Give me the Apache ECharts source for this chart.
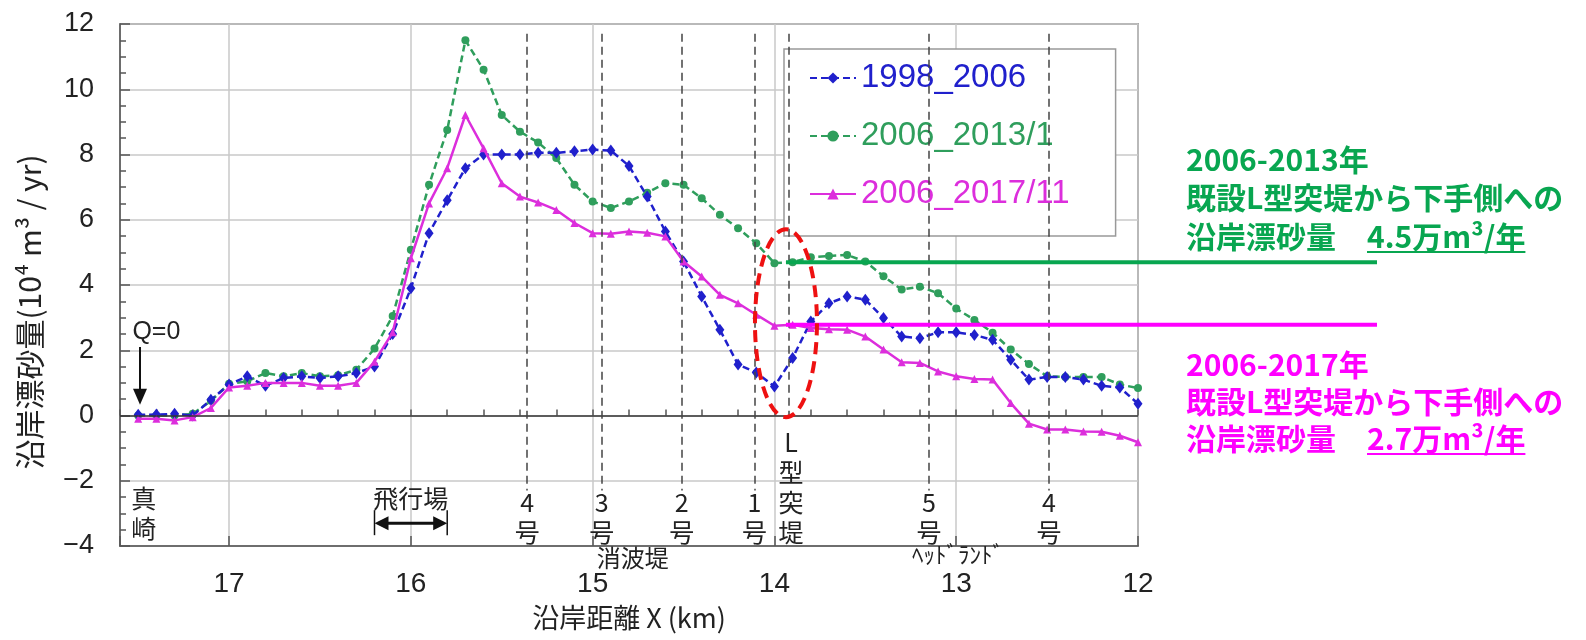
<!DOCTYPE html>
<html><head><meta charset="utf-8">
<script src="https://cdn.jsdelivr.net/npm/echarts@6/dist/echarts.min.js"></script>
<style>html,body{margin:0;padding:0;background:#fff}#c{width:1586px;height:640px}</style>
</head><body><div id="c"></div>
<script>
// ---- data ----
const km = [17.5,17.4,17.3,17.2,17.1,17.0,16.9,16.8,16.7,16.6,16.5,16.4,16.3,16.2,16.1,
  16.0,15.9,15.8,15.7,15.6,15.5,15.4,15.3,15.2,15.1,
  15.0,14.9,14.8,14.7,14.6,14.5,14.4,14.3,14.2,14.1,
  14.0,13.9,13.8,13.7,13.6,13.5,13.4,13.3,13.2,13.1,
  13.0,12.9,12.8,12.7,12.6,12.5,12.4,12.3,12.2,12.1,12.0];
const q1998_2006 = [0.02,0.03,0.05,0.0,0.48,0.95,1.2,0.91,1.15,1.2,1.15,1.2,1.3,1.5,2.5,
  3.9,5.59,6.6,7.58,8.0,8.0,8.0,8.05,8.05,8.1,
  8.15,8.12,7.65,6.71,5.64,4.72,3.65,2.63,1.56,1.32,
  0.89,1.76,2.88,3.44,3.65,3.55,2.99,2.42,2.37,2.55,
  2.55,2.47,2.32,1.71,1.1,1.18,1.18,1.1,0.91,0.86,0.36];
const q2006_2013 = [0,0,0,0.05,0.45,0.97,1.05,1.3,1.2,1.3,1.2,1.23,1.4,2.05,3.05,
  5.08,7.07,8.75,11.5,10.6,9.21,8.7,8.37,7.89,7.07,
  6.56,6.36,6.56,6.83,7.12,7.07,6.66,6.15,5.74,5.28,
  4.67,4.7,4.85,4.89,4.92,4.72,4.27,3.86,3.95,3.75,
  3.28,2.93,2.54,2.02,1.58,1.2,1.18,1.18,1.18,0.95,0.84];
const q2006_2017 = [-0.1,-0.1,-0.15,-0.05,0.23,0.86,0.91,1.0,1.0,1.0,0.91,0.91,1.0,1.65,2.55,
  4.82,6.5,7.58,9.21,8.19,7.12,6.71,6.53,6.3,5.9,
  5.59,5.57,5.64,5.6,5.49,4.72,4.26,3.7,3.44,3.09,
  2.75,2.78,2.68,2.64,2.63,2.42,2.02,1.63,1.61,1.35,
  1.2,1.12,1.1,0.38,-0.25,-0.43,-0.43,-0.49,-0.5,-0.62,-0.82];
const seriesNames = ['1998_2006','2006_2013/1','2006_2017/11'];
// structure positions (km) and labels
const structKm = [15.36, 14.95, 14.51, 14.11, 13.92, 13.15, 12.49];
const structLabel = ['4\n号','3\n号','2\n号','1\n号','L\n型\n突\n堤','5\n号','4\n号'];
const groinKm = 13.92;     // 既設L型突堤
const groupLabels = ['消波堤', 'ﾍｯﾄﾞﾗﾝﾄﾞ'];
const groupKm = [14.78, 12.99];
const placeLabels = ['真\n崎', '飛行場'];
const placeKm = [17.47, 16.0];
const airportKm = [16.2, 15.8];
const annoGreen = ['2006-2013年', '既設L型突堤から下手側への', '沿岸漂砂量', '4.5万m³/年'];
const annoPink = ['2006-2017年', '既設L型突堤から下手側への', '沿岸漂砂量', '2.7万m³/年'];

// ---- styles ----
const JP = "'Noto Sans CJK JP', sans-serif";
const NUM = "'Liberation Sans', Arial, sans-serif";
const colors = ['#2020cc', '#2f9e5c', '#dc2edc'];
const GREEN = '#08a650', PINK = '#ff00ff';

const chart = echarts.init(document.getElementById('c'));
const pair = arr => km.map((k, i) => [k, arr[i]]);

const structLines = structKm.map((k, i) => [
  {coord: [k, 11.7]}, {coord: [k, i === 4 ? 0 : -2.3]}
]);

const option = {
  animation: false,
  backgroundColor: '#fff',
  grid: {left: 120, right: 448, top: 24, bottom: 94, show: true, borderColor: '#666', borderWidth: 1.5},
  legend: {
    orient: 'vertical', left: 784, top: 49, itemWidth: 46, itemHeight: 14, itemGap: 22,
    padding: [11, 46, 24, 25], backgroundColor: '#fff', borderColor: '#999', borderWidth: 1.5,
    textStyle: {fontSize: 33, fontFamily: NUM, lineHeight: 36},
    data: seriesNames.map((n, i) => ({name: n, textStyle: {color: colors[i]}}))
  },
  xAxis: [{
    type: 'value', min: 12, max: 17.6, inverse: true, interval: 1,
    axisLine: {onZero: false, lineStyle: {color: '#555', width: 1.5}},
    axisTick: {inside: true, length: 10, lineStyle: {color: '#555', width: 1.5}},
    axisLabel: {fontSize: 28, color: '#222', margin: 24, fontFamily: NUM,
      formatter: v => Math.abs(v - Math.round(v)) < 1e-6 ? String(Math.round(v)) : ''},
    splitLine: {show: true, lineStyle: {color: '#c8c8c8', width: 1.5}},
    name: '沿岸距離 X (km)', nameLocation: 'middle', nameGap: 58,
    nameTextStyle: {fontSize: 27, color: '#222', fontFamily: JP}
  }, {
    type: 'value', min: 12, max: 17.6, inverse: true, interval: 0.2, position: 'bottom',
    axisLine: {show: false}, axisLabel: {show: false}, splitLine: {show: false},
    axisTick: {inside: true, length: 6, lineStyle: {color: '#555', width: 1.5}}
  }],
  yAxis: {
    type: 'value', min: -4, max: 12, interval: 2,
    axisLine: {show: true, lineStyle: {color: '#555', width: 1.5}},
    axisTick: {show: true, inside: true, length: 10, lineStyle: {color: '#555', width: 1.5}},
    minorTick: {show: true, splitNumber: 4, length: 6, lineStyle: {color: '#555', width: 1.5}},
    axisLabel: {fontSize: 27, color: '#222', margin: 26, fontFamily: NUM,
      formatter: v => String(v).replace('-', '−')},
    splitLine: {lineStyle: {color: '#c8c8c8', width: 1.5}}
  },
  series: [
    {name: seriesNames[0], type: 'line', data: pair(q1998_2006), symbol: 'diamond', symbolSize: [9, 12],
      itemStyle: {color: colors[0]}, lineStyle: {color: colors[0], width: 2.5, type: [7, 4]},
      z: 3,
      markLine: {silent: true, symbol: 'none', label: {show: false},
        data: [{yAxis: 0, lineStyle: {type: 'solid', color: '#333', width: 1.5}}].concat(
          structLines.map(l => [Object.assign({lineStyle: {type: [8, 5], color: '#444', width: 1.5}}, l[0]), l[1]]))}},
    {name: seriesNames[1], type: 'line', data: pair(q2006_2013), symbol: 'circle', symbolSize: 8,
      itemStyle: {color: colors[1]}, lineStyle: {color: colors[1], width: 2.5, type: [7, 4]}, z: 2},
    {name: seriesNames[2], type: 'line', data: pair(q2006_2017), symbol: 'triangle', symbolSize: 8,
      itemStyle: {color: colors[2]}, lineStyle: {color: colors[2], width: 2.5}, z: 4}
  ]
};
chart.setOption(option);

const P = (x, y) => chart.convertToPixel({xAxisIndex: 0, yAxisIndex: 0}, [x, y]);
const g = [];
const txt = (x, y, text, size, color, extra) => g.push(Object.assign({
  type: 'text', x, y, z: 20,
  style: Object.assign({text, fill: color, fontSize: size, fontFamily: JP, align: 'center', verticalAlign: 'middle', lineHeight: 30}, extra || {})
}));

// structure labels
structKm.forEach((k, i) => {
  const p = P(k, i === 4 ? -2.2 : -3.13);
  txt(p[0] + (i === 4 ? 2 : 0), p[1], structLabel[i], 25, '#222');
});
groupKm.forEach((k, i) => {
  const p = P(k, i === 0 ? -4.36 : -4.24);
  txt(p[0], p[1], groupLabels[i], i === 0 ? 24 : 23, '#222');
});
// 真崎
{ const p = P(placeKm[0], -2.99); txt(p[0], p[1], placeLabels[0], 25, '#222'); }
// 飛行場
{ const p = P(placeKm[1], -2.55); txt(p[0], p[1], placeLabels[1], 25, '#222');
  const a = P(airportKm[0], -3.3), b = P(airportKm[1], -3.3);
  const y = a[1];
  g.push({type: 'line', z: 20, shape: {x1: a[0] + 10, y1: y, x2: b[0] - 10, y2: y}, style: {stroke: '#111', lineWidth: 3}});
  g.push({type: 'polygon', z: 20, shape: {points: [[a[0], y], [a[0] + 14, y - 7], [a[0] + 14, y + 7]]}, style: {fill: '#111'}});
  g.push({type: 'polygon', z: 20, shape: {points: [[b[0], y], [b[0] - 14, y - 7], [b[0] - 14, y + 7]]}, style: {fill: '#111'}});
  g.push({type: 'line', z: 20, shape: {x1: a[0], y1: y - 13, x2: a[0], y2: y + 12}, style: {stroke: '#111', lineWidth: 1.5}});
  g.push({type: 'line', z: 20, shape: {x1: b[0], y1: y - 13, x2: b[0], y2: y + 12}, style: {stroke: '#111', lineWidth: 1.5}});
}
// Q=0
{ const t = P(17.4, 2.57); txt(t[0], t[1], 'Q=0', 25, '#222', {fontFamily: NUM});
  const a = P(17.49, 2.1), b = P(17.49, 0.33);
  g.push({type: 'line', z: 20, shape: {x1: a[0], y1: a[1], x2: b[0], y2: b[1] - 12}, style: {stroke: '#111', lineWidth: 2}});
  g.push({type: 'polygon', z: 20, shape: {points: [[b[0], b[1]], [b[0] - 7, b[1] - 16], [b[0] + 7, b[1] - 16]]}, style: {fill: '#111'}});
}
// horizontal annotation lines at the L-type groin
const gi = km.indexOf(13.9);
const lineEndX = 1377;
[[q2006_2013[gi], GREEN], [q2006_2017[gi], PINK]].forEach(([v, c]) => {
  const p = P(groinKm, v);
  g.push({type: 'line', z: 25, shape: {x1: p[0] - 3, y1: p[1], x2: lineEndX, y2: p[1]}, style: {stroke: c, lineWidth: 4}});
});
// red ellipse
{ const c = P(groinKm, 2.83);
  g.push({type: 'ellipse', z: 26, shape: {cx: c[0] - 3, cy: c[1], rx: 31, ry: 94},
    style: {fill: 'none', stroke: '#ee1111', lineWidth: 4, lineDash: [12, 7]}});
}
// right-side texts
const ctx = document.createElement('canvas').getContext('2d');
ctx.font = "bold 30px 'Noto Sans CJK JP'";
const tx = 1186, ux = 1367;
const block = (lines, color, ys) => {
  txt(tx, ys[0], lines[0], 30, color, {align: 'left', fontWeight: 'bold'});
  txt(tx, ys[1], lines[1], 30, color, {align: 'left', fontWeight: 'bold'});
  txt(tx, ys[2], lines[2], 30, color, {align: 'left', fontWeight: 'bold'});
  txt(ux, ys[2], lines[3], 30, color, {align: 'left', fontWeight: 'bold'});
  const w = ctx.measureText(lines[3]).width;
  g.push({type: 'line', z: 20, shape: {x1: ux, y1: ys[2] + 15, x2: ux + w, y2: ys[2] + 15}, style: {stroke: color, lineWidth: 2}});
};
block(annoGreen, GREEN, [160, 198, 237]);
block(annoPink, PINK, [365, 402, 439]);

// y axis title
g.push({type: 'text', z: 20, x: 30, y: 312, rotation: Math.PI / 2,
  style: {text: '沿岸漂砂量(10⁴ m³ / yr)', fill: '#222', fontSize: 30, fontFamily: JP, align: 'center', verticalAlign: 'middle'}});

chart.setOption({graphic: g});
</script></body></html>
